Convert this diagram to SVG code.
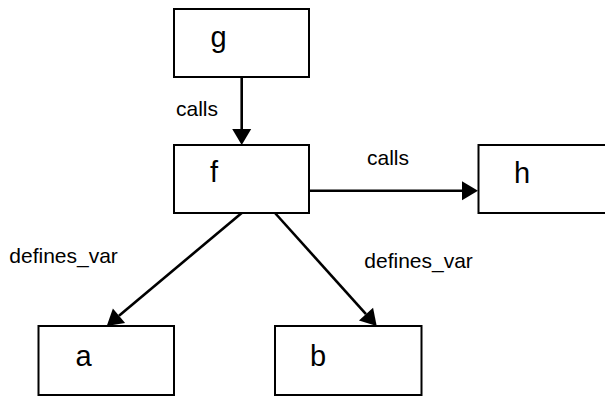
<svg xmlns="http://www.w3.org/2000/svg" width="605" height="397" viewBox="0 0 605 397">
<style>
.box{fill:#fff;stroke:#000;stroke-width:2}
.nt{font-family:"Liberation Sans",Arial,sans-serif;font-size:29px;fill:#000}
.lb{font-family:"Liberation Sans",Arial,sans-serif;font-size:21px;fill:#000}
.edge{stroke:#000;stroke-width:2.6;fill:none}
</style>
<defs>
<marker id="arr" markerUnits="userSpaceOnUse" markerWidth="17" markerHeight="20" refX="0" refY="9.5" orient="auto" overflow="visible">
<path d="M0,0 L16,9.5 L0,19 z" fill="#000"/>
</marker>
</defs>
<rect width="605" height="397" fill="#fff"/>
<g id="node-g"><rect class="box" x="174" y="9" width="135" height="68"/><text class="nt" x="210.5" y="47">g</text></g>
<g id="node-f"><rect class="box" x="174" y="145" width="135" height="68"/><text class="nt" x="210" y="182">f</text></g>
<g id="node-h"><rect class="box" x="478.5" y="145" width="140" height="68"/><text class="nt" x="514" y="183">h</text></g>
<g id="node-a"><rect class="box" x="38.5" y="326" width="135.5" height="69"/><text class="nt" x="75.5" y="366">a</text></g>
<g id="node-b"><rect class="box" x="275" y="326" width="146.5" height="69"/><text class="nt" x="310" y="366">b</text></g>
<g id="connectors">
<line class="edge" x1="241.7" y1="77" x2="241.7" y2="129" marker-end="url(#arr)"/>
<line class="edge" x1="309" y1="190.7" x2="462" y2="190.7" marker-end="url(#arr)"/>
<line class="edge" x1="241.7" y1="213" x2="119" y2="315.7" marker-end="url(#arr)"/>
<line class="edge" x1="275" y1="213" x2="366" y2="314.1" marker-end="url(#arr)"/>
<text class="lb" x="176" y="116">calls</text>
<text class="lb" x="367" y="165">calls</text>
<text class="lb" x="9.3" y="262.5">defines_var</text>
<text class="lb" x="364.3" y="268">defines_var</text>
</g>
</svg>
